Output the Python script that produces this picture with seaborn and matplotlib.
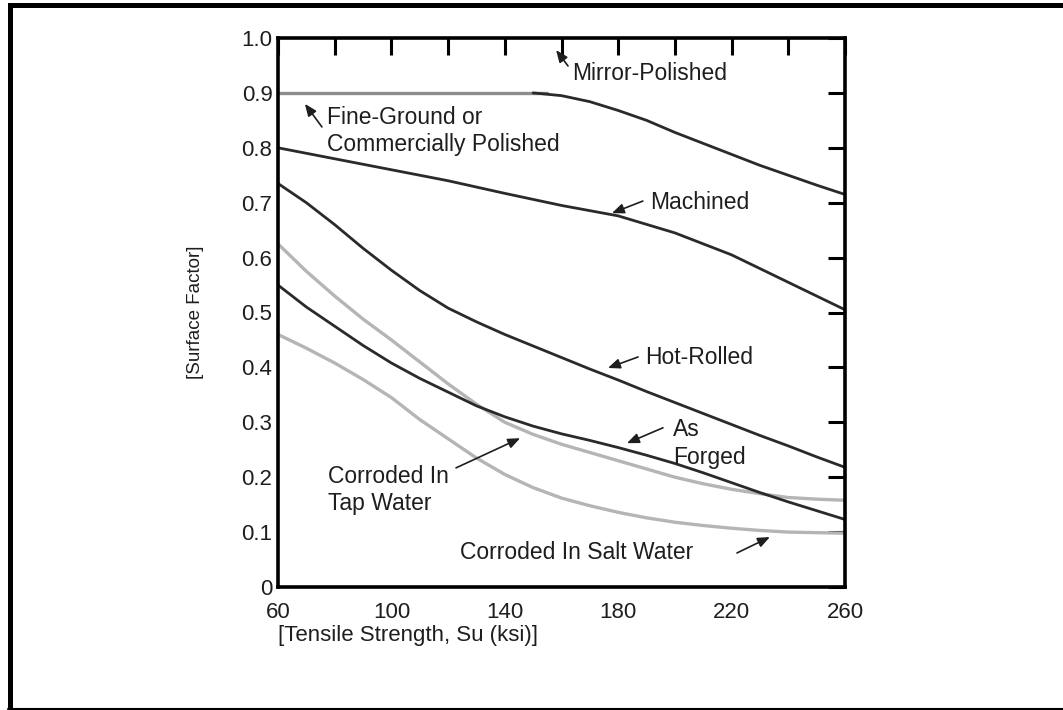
import matplotlib
matplotlib.use("Agg")
import matplotlib.pyplot as plt
from matplotlib.patches import Rectangle
from matplotlib.lines import Line2D
import seaborn as sns
import pandas as pd

# ---- data ----
x_full = [60, 70, 80, 90, 100, 110, 120, 130, 140, 150, 160, 170, 180, 190, 200, 210, 220, 230, 240, 250, 260]

fine_ground_x = [60, 80, 100, 120, 140, 155]
fine_ground_y = [0.90, 0.90, 0.90, 0.90, 0.90, 0.90]

mirror_x = [150, 160, 170, 180, 190, 200, 210, 220, 230, 240, 250, 260]
mirror_y = [0.900, 0.895, 0.884, 0.868, 0.850, 0.828, 0.808, 0.788, 0.768, 0.750, 0.732, 0.715]

machined_x = [60, 80, 100, 120, 140, 160, 180, 200, 220, 240, 260]
machined_y = [0.800, 0.780, 0.760, 0.740, 0.717, 0.695, 0.676, 0.645, 0.605, 0.555, 0.505]

hot_rolled_y = [0.735, 0.700, 0.660, 0.617, 0.577, 0.540, 0.508, 0.483, 0.460, 0.439, 0.418,
                0.397, 0.377, 0.356, 0.336, 0.316, 0.296, 0.276, 0.257, 0.237, 0.218]
as_forged_y = [0.550, 0.510, 0.475, 0.440, 0.408, 0.380, 0.355, 0.330, 0.310, 0.293, 0.279,
               0.267, 0.254, 0.240, 0.225, 0.208, 0.190, 0.172, 0.155, 0.139, 0.123]
tap_water_y = [0.625, 0.575, 0.530, 0.488, 0.450, 0.410, 0.370, 0.333, 0.300, 0.278, 0.260,
               0.245, 0.230, 0.215, 0.200, 0.188, 0.178, 0.170, 0.163, 0.160, 0.158]
salt_water_y = [0.460, 0.435, 0.408, 0.378, 0.345, 0.305, 0.270, 0.235, 0.205, 0.181, 0.162,
                0.148, 0.136, 0.126, 0.118, 0.112, 0.107, 0.103, 0.100, 0.099, 0.098]

x_ticks = [60, 80, 100, 120, 140, 160, 180, 200, 220, 240, 260]
x_tick_labels = ["60", "", "100", "", "140", "", "180", "", "220", "", "260"]
y_ticks = [0, 0.1, 0.2, 0.3, 0.4, 0.5, 0.6, 0.7, 0.8, 0.9, 1.0]
y_tick_labels = ["0", "0.1", "0.2", "0.3", "0.4", "0.5", "0.6", "0.7", "0.8", "0.9", "1.0"]

x_label = "[Tensile Strength, Su (ksi)]"
y_label = "[Surface Factor]"

# ---- long table for seaborn ----
frames = [
    pd.DataFrame({"x": fine_ground_x, "y": fine_ground_y, "s": "fine"}),
    pd.DataFrame({"x": mirror_x, "y": mirror_y, "s": "mirror"}),
    pd.DataFrame({"x": machined_x, "y": machined_y, "s": "machined"}),
    pd.DataFrame({"x": x_full, "y": hot_rolled_y, "s": "hot"}),
    pd.DataFrame({"x": x_full, "y": tap_water_y, "s": "tap"}),
    pd.DataFrame({"x": x_full, "y": salt_water_y, "s": "salt"}),
    pd.DataFrame({"x": x_full, "y": as_forged_y, "s": "forged"}),
]
df = pd.concat(frames, ignore_index=True)

styles = {
    "fine": ("#8c8c8c", 2.4),
    "mirror": ("#2a2a2a", 2.0),
    "machined": ("#2a2a2a", 2.0),
    "hot": ("#2a2a2a", 2.0),
    "tap": ("#b5b5b5", 2.4),
    "salt": ("#b5b5b5", 2.4),
    "forged": ("#2a2a2a", 2.0),
}

sns.set_theme(style="white")
plt.rcParams["font.family"] = ["Liberation Sans", "DejaVu Sans"]

fig = plt.figure(figsize=(10.63, 7.10), dpi=100)
fig.patch.set_facecolor("white")
ax = fig.add_axes([278 / 1063, 1 - 587 / 710, 567 / 1063, 549 / 710])

for name, (col, lw) in styles.items():
    sub = df[df["s"] == name]
    sns.lineplot(data=sub, x="x", y="y", ax=ax, color=col, linewidth=lw,
                 estimator=None, sort=False, legend=False)

ax.set_xlim(60, 260)
ax.set_ylim(0, 1.0)
ax.set_xticks(x_ticks)
ax.set_xticklabels(x_tick_labels)
ax.set_yticks(y_ticks)
ax.set_yticklabels(y_tick_labels)
ax.tick_params(axis="both", which="major", direction="in", length=12, width=2.2,
               color="black", labelsize=16, labelcolor="#1e1e1e",
               top=True, right=True)
ax.tick_params(axis="x", pad=11)
ax.tick_params(axis="y", pad=4)
for sp in ax.spines.values():
    sp.set_color("black")
    sp.set_linewidth(2.6)
    sp.set_visible(True)

ax.set_xlabel(x_label, fontsize=16, color="#1e1e1e", loc="left", labelpad=1)
ax.set_ylabel(y_label, fontsize=13.5, color="#1e1e1e", labelpad=27)

txt_kw = dict(fontsize=16.5, color="#1e1e1e", ha="left", va="center", linespacing=1.25)
arr_kw = dict(arrowstyle="-|>,head_length=0.6,head_width=0.25", color="#1e1e1e", lw=1.2,
              shrinkA=0, shrinkB=0)

ax.text(163.9, 0.936, "Mirror-Polished", **txt_kw)
ax.annotate("", xy=(158.1, 0.978), xytext=(162.3, 0.949), arrowprops=arr_kw)

ax.text(77.2, 0.831, "Fine-Ground or\nCommercially Polished", **txt_kw)
ax.annotate("", xy=(69.5, 0.880), xytext=(75.5, 0.838), arrowprops=arr_kw)

ax.text(191.2, 0.700, "Machined", **txt_kw)
ax.annotate("", xy=(177.8, 0.681), xytext=(188.7, 0.703), arrowprops=arr_kw)

ax.text(189.5, 0.418, "Hot-Rolled", **txt_kw)
ax.annotate("", xy=(176.4, 0.399), xytext=(187.0, 0.419), arrowprops=arr_kw)

ax.text(199.2, 0.261, "As\nForged", **txt_kw)
ax.annotate("", xy=(183.1, 0.262), xytext=(195.8, 0.290), arrowprops=arr_kw)

ax.text(77.5, 0.177, "Corroded In\nTap Water", **txt_kw)
ax.annotate("", xy=(145.4, 0.271), xytext=(122.8, 0.217), arrowprops=arr_kw)

ax.text(124.2, 0.062, "Corroded In Salt Water", **txt_kw)
ax.annotate("", xy=(233.5, 0.091), xytext=(221.9, 0.062), arrowprops=arr_kw)

# ---- page frame (left, top, bottom rules) ----
fig.add_artist(Rectangle((8 / 1063, 0), 5 / 1063, 1 - 3 / 710, transform=fig.transFigure,
                         facecolor="black", edgecolor="none"))
fig.add_artist(Rectangle((8 / 1063, 1 - 8 / 710), 1 - 8 / 1063, 5 / 710, transform=fig.transFigure,
                         facecolor="black", edgecolor="none"))
fig.add_artist(Line2D([8 / 1063, 1], [1.2 / 710, 1.2 / 710], transform=fig.transFigure,
                      color="black", linewidth=1.5))

fig.savefig("out.png", dpi=100, facecolor="white")
